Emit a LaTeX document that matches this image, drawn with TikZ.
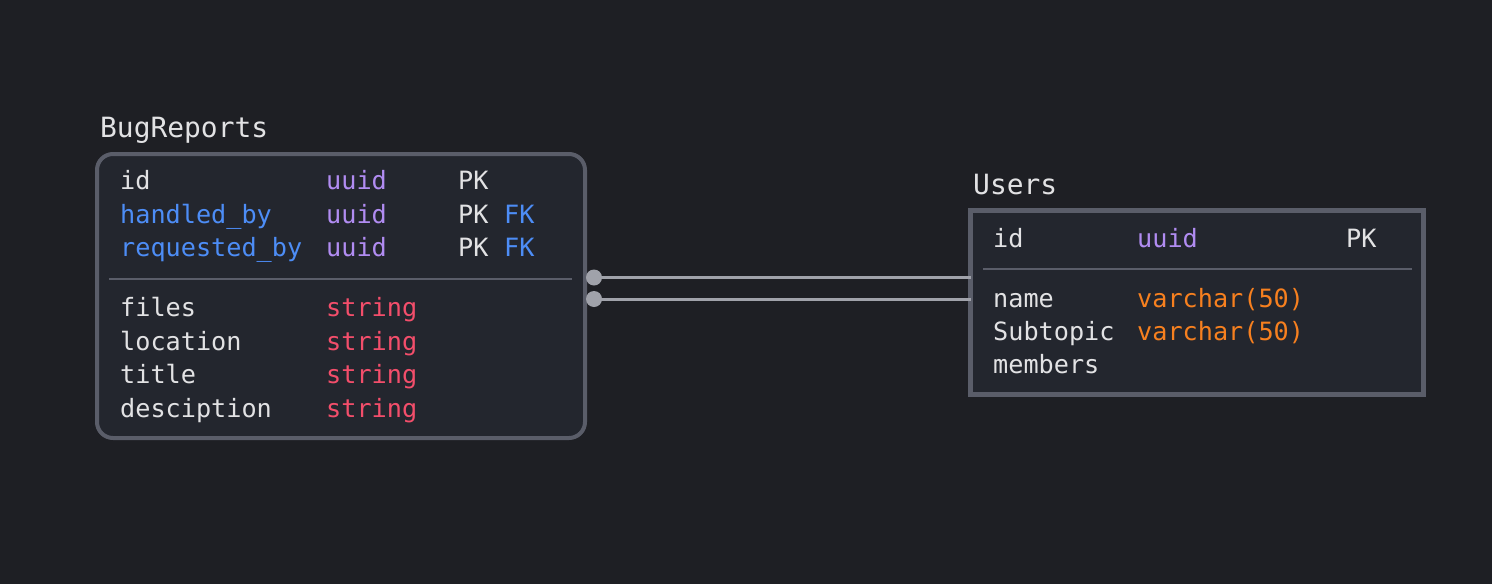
\documentclass[tikz,border=0pt]{standalone}
\usepackage{fontspec}
\setmonofont{DejaVu Sans Mono}
\definecolor{bg}{HTML}{1E1F24}
\definecolor{boxfill}{HTML}{23262E}
\definecolor{boxline}{HTML}{5A5D69}
\definecolor{txt}{HTML}{E2E2E4}
\definecolor{blu}{HTML}{4D8DF6}
\definecolor{pur}{HTML}{B18CF2}
\definecolor{rd}{HTML}{F34E6B}
\definecolor{org}{HTML}{F7801F}
\definecolor{conn}{HTML}{A0A2AA}
\begin{document}
\begin{tikzpicture}[x=1pt,y=-1pt,
  lbl/.style={anchor=base west,inner sep=0pt,font=\ttfamily\fontsize{25.2}{30}\selectfont,text=txt},
  ttl/.style={anchor=base west,inner sep=0pt,font=\ttfamily\fontsize{27.9}{33}\selectfont,text=txt},
  entbox/.style={draw=boxline,line width=4pt,fill=boxfill,anchor=north west,inner sep=0pt,outer sep=0pt},
  divider/.style={draw=boxline,line width=2.5pt},
  rel/.style={draw=conn,line width=3pt},
  relend/.style={fill=conn,draw=none}]
\fill[bg] (0,0) rectangle (1492,584);
\useasboundingbox (0,0) rectangle (1492,584);
% BugReports
\node[entbox,rounded corners=16pt,minimum width=488pt,minimum height=284pt] (bug) at (97,154) {};
\node[ttl] (bugt) at (100,137) {BugReports};
\draw[divider] (109,279) -- (572,279);
\node[lbl] (b1n) at (120,189) {id};
\node[lbl,text=pur] (b1t) at (326,189) {uuid};
\node[lbl] (b1k) at (458,189) {PK};
\node[lbl,text=blu] (b2n) at (120,223) {handled\_by};
\node[lbl,text=pur] (b2t) at (326,223) {uuid};
\node[lbl] (b2k) at (458,223) {PK};
\node[lbl,text=blu] (b2f) at (504,223) {FK};
\node[lbl,text=blu] (b3n) at (120,256) {requested\_by};
\node[lbl,text=pur] (b3t) at (326,256) {uuid};
\node[lbl] (b3k) at (458,256) {PK};
\node[lbl,text=blu] (b3f) at (504,256) {FK};
\node[lbl] (b4n) at (120,316) {files};
\node[lbl,text=rd] (b4t) at (326,316) {string};
\node[lbl] (b5n) at (120,350) {location};
\node[lbl,text=rd] (b5t) at (326,350) {string};
\node[lbl] (b6n) at (120,383) {title};
\node[lbl,text=rd] (b6t) at (326,383) {string};
\node[lbl] (b7n) at (120,417) {desciption};
\node[lbl,text=rd] (b7t) at (326,417) {string};
% Users
\node[entbox,line width=4.5pt,minimum width=453pt,minimum height=184pt] (users) at (970.5,210.5) {};
\node[ttl] (usert) at (973,194) {Users};
\draw[divider] (983,269) -- (1412,269);
\node[lbl] (u1n) at (993,247) {id};
\node[lbl,text=pur] (u1t) at (1137,247) {uuid};
\node[lbl] (u1k) at (1346,247) {PK};
\node[lbl] (u2n) at (993,307) {name};
\node[lbl,text=org] (u2t) at (1137,307) {varchar(50)};
\node[lbl] (u3n) at (993,340) {Subtopic};
\node[lbl,text=org] (u3t) at (1137,340) {varchar(50)};
\node[lbl] (u4n) at (993,373) {members};
% relationships
\coordinate (d1) at (594,277.5);
\coordinate (d2) at (594,299);
\draw[rel] (d1) -- (d1 -| users.west);
\draw[rel] (d2) -- (d2 -| users.west);
\fill[relend] (d1) circle (8pt);
\fill[relend] (d2) circle (8pt);
\end{tikzpicture}
\end{document}
